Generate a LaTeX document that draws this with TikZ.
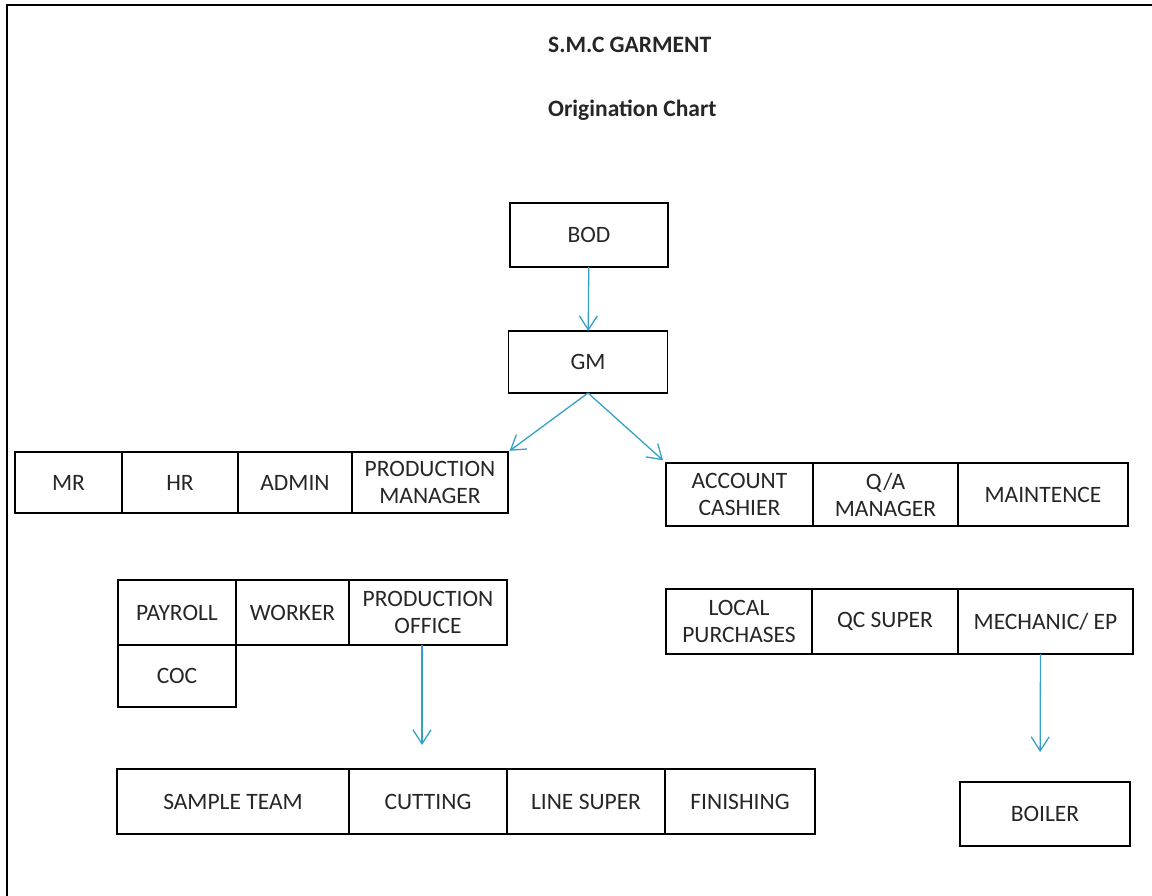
\documentclass[tikz,border=0pt]{standalone}
\usepackage{fontspec}
\setmainfont{Carlito}
\usetikzlibrary{arrows.meta, positioning}
\definecolor{arrowblue}{RGB}{52,160,200}

\begin{document}
\begin{tikzpicture}[x=1pt, y=-1pt,
  cell/.style={rectangle, draw=black, line width=1.3pt, outer sep=0pt, inner sep=2pt, text centered, align=center, text=black!85, font=\fontsize{23.5}{27}\selectfont},
  title/.style={anchor=west, inner sep=0pt, text=black!85, font=\fontsize{23.5}{27}\selectfont\bfseries},
  arrow/.style={line width=1.3pt, draw=arrowblue, -{Straight Barb[length=14pt,width=18pt]}}]

  \useasboundingbox (0,0) rectangle (1152,896);
  \draw [line width=2.5pt] (7,896) -- (7,5) -- (1152,5);

  % Title
  \node (company) [title] at (548,45) {S.M.C GARMENT};
  \node (chart) [title] at (548,110) {Origination Chart};

  % Nodes
  \node (bod) [cell, minimum width=158pt, minimum height=64pt] at (589,235) {BOD};
  \node (gm) [cell, minimum width=159pt, minimum height=62pt] at (588,362) {GM};

  \node (mr) [cell, minimum width=107pt, minimum height=61pt, anchor=north west] at (15,452) {MR};
  \node (hr) [cell, minimum width=116pt, minimum height=61pt, right=0pt of mr] {HR};
  \node (admin) [cell, minimum width=114pt, minimum height=61pt, right=0pt of hr] {ADMIN};
  \node (prodManager) [cell, minimum width=156pt, minimum height=61pt, right=0pt of admin] {PRODUCTION\\MANAGER};

  \node (accountCashier) [cell, minimum width=147pt, minimum height=63pt, anchor=north west] at (666,463) {ACCOUNT\\CASHIER};
  \node (qaManager) [cell, minimum width=145pt, minimum height=63pt, right=0pt of accountCashier] {Q/A\\MANAGER};
  \node (maintence) [cell, minimum width=170pt, minimum height=63pt, right=0pt of qaManager] {MAINTENCE};

  \node (payroll) [cell, minimum width=118pt, minimum height=65pt, anchor=north west] at (118,580) {PAYROLL};
  \node (worker) [cell, minimum width=113pt, minimum height=65pt, right=0pt of payroll] {WORKER};
  \node (prodOffice) [cell, minimum width=158pt, minimum height=65pt, right=0pt of worker] {PRODUCTION\\OFFICE};
  \node (coc) [cell, minimum width=118pt, minimum height=62pt, below=0pt of payroll] {COC};

  \node (localPurchases) [cell, minimum width=146pt, minimum height=65pt, anchor=north west] at (666,589) {LOCAL\\PURCHASES};
  \node (qcSuper) [cell, minimum width=146pt, minimum height=65pt, right=0pt of localPurchases] {QC SUPER};
  \node (mechanic) [cell, minimum width=175pt, minimum height=65pt, right=0pt of qcSuper] {MECHANIC/ EP};

  \node (sampleTeam) [cell, minimum width=232pt, minimum height=65pt, anchor=north west] at (117,769) {SAMPLE TEAM};
  \node (cutting) [cell, minimum width=158pt, minimum height=65pt, right=0pt of sampleTeam] {CUTTING};
  \node (lineSuper) [cell, minimum width=158pt, minimum height=65pt, right=0pt of cutting] {LINE SUPER};
  \node (finishing) [cell, minimum width=150pt, minimum height=65pt, right=0pt of lineSuper] {FINISHING};

  \node (boiler) [cell, minimum width=170pt, minimum height=64pt, anchor=north west] at (960,782) {BOILER};

  % Arrows
  \draw [arrow] (bod) -- (gm);
  \draw [arrow, shorten >=2pt] (gm.south) -- (prodManager.north east);
  \draw [arrow, shorten >=4pt] (gm.south) -- (accountCashier.north west);
  \draw [arrow, shorten >=24pt] ([xshift=-6pt]prodOffice.south) -- ([xshift=-6pt]cutting.north);
  \draw [arrow, shorten >=30pt] ([xshift=-5pt]mechanic.south) -- ([xshift=-5pt]boiler.north);
\end{tikzpicture}
\end{document}
